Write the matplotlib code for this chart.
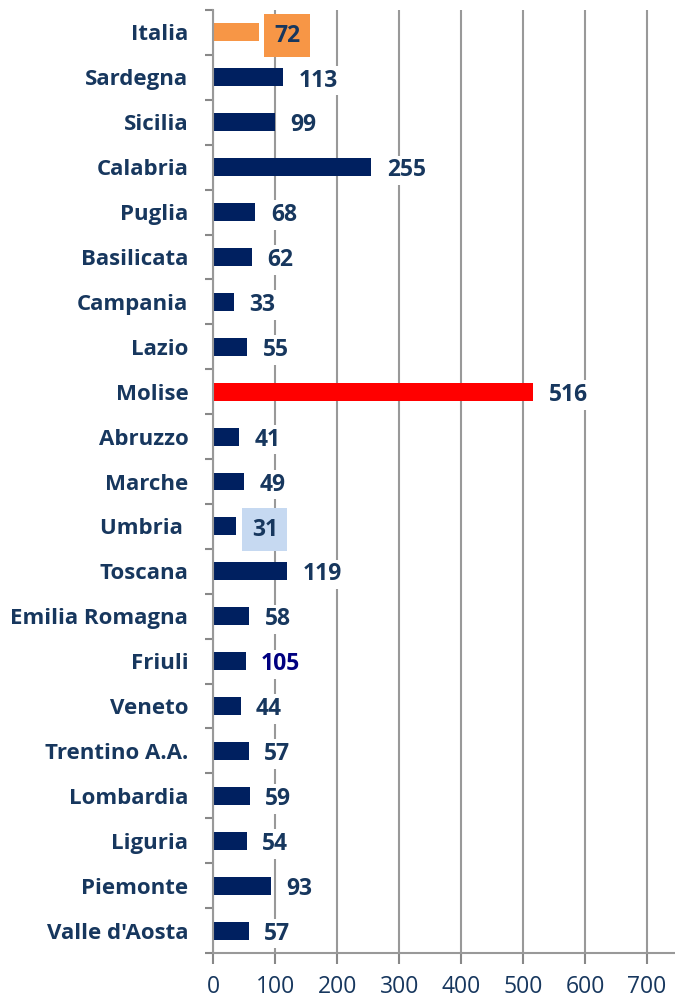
import matplotlib.pyplot as plt
import numpy as np

regioni = ["Italia", "Sardegna", "Sicilia", "Calabria", "Puglia", "Basilicata",
           "Campania", "Lazio", "Molise", "Abruzzo", "Marche", "Umbria ",
           "Toscana", "Emilia Romagna", "Friuli", "Veneto", "Trentino A.A.",
           "Lombardia", "Liguria", "Piemonte", "Valle d'Aosta"]
# lunghezza delle barre come appare nel grafico
valori = [73, 113, 99, 255, 68, 62, 33, 55, 516, 41, 49, 37, 119, 58, 52,
          44, 57, 59, 54, 93, 57]
# etichette riportate accanto alle barre
etichette = ["72", "113", "99", "255", "68", "62", "33", "55", "516", "41", "49",
             "31", "119", "58", "105", "44", "57", "59", "54", "93", "57"]
ticks_x = [0, 100, 200, 300, 400, 500, 600, 700]

navy = "#002060"
testo = "#17375E"
colori = [navy] * len(regioni)
colori[0] = "#F79646"
colori[8] = "#FF0000"

plt.rcParams['font.family'] = ['Open Sans', 'DejaVu Sans']

fig = plt.figure(figsize=(6.75, 10), dpi=100)
ax = fig.add_axes([0.316, 0.047, 0.684, 0.943])

y = np.arange(len(regioni))
ax.barh(y, valori, height=0.4, color=colori, zorder=2)
ax.set_ylim(len(regioni) - 0.5, -0.5)
ax.set_xlim(0, 745)
ax.set_xticks(ticks_x)
ax.set_xticklabels([str(t) for t in ticks_x], fontsize=16.5, color=testo)

ax.set_yticks(y)
ax.set_yticklabels(regioni, fontsize=16, fontweight="bold", color=testo)
ax.tick_params(axis="y", length=0, pad=18)
ax.set_yticks(np.arange(len(regioni) + 1) - 0.5, minor=True)
ax.tick_params(axis="y", which="minor", length=6, color="#888888", width=1.5)
ax.tick_params(axis="x", length=8, color="#888888", width=1.5, pad=8)

ax.grid(axis="x", color="#999999", linewidth=1.5, zorder=0)
for s in ["top", "right"]:
    ax.spines[s].set_visible(False)
for s in ["left", "bottom"]:
    ax.spines[s].set_color("#999999")
    ax.spines[s].set_linewidth(1.5)

# etichette dei valori
for i, v in enumerate(valori):
    box = dict(facecolor="white", edgecolor="none", pad=2)
    col = testo
    if i == 0:
        box = dict(facecolor="#F79646", edgecolor="none", pad=7)
    elif regioni[i].strip() == "Umbria":
        box = dict(facecolor="#C6D9F1", edgecolor="none", pad=7)
    elif regioni[i] == "Friuli":
        col = "#000080"
    ax.text(v + 25, i + 0.07, etichette[i], va="center", ha="left", fontsize=16.5,
            fontweight="bold", color=col, bbox=box, zorder=3)

fig.savefig("out.png", dpi=100)
